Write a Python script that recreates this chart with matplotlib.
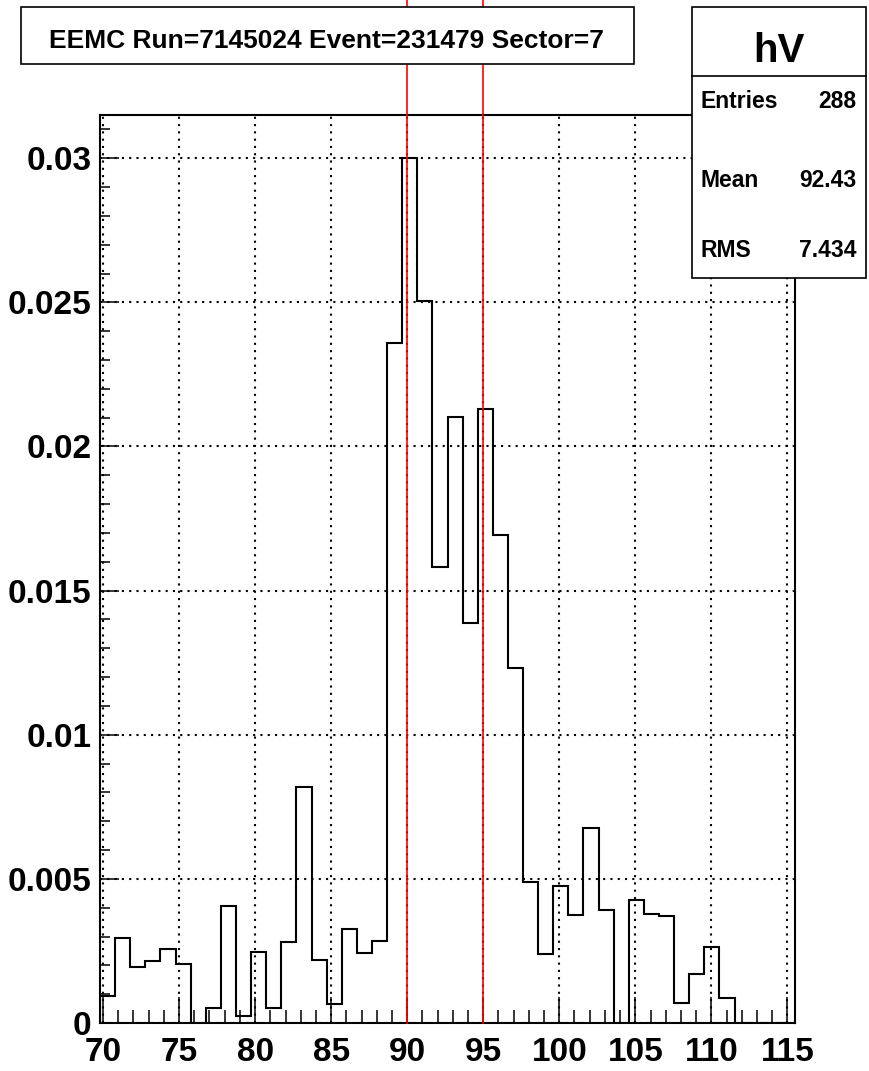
import matplotlib
matplotlib.use("Agg")
import matplotlib.pyplot as plt
import numpy as np
from matplotlib.patches import Rectangle
from matplotlib.ticker import MultipleLocator, FuncFormatter

plt.rcParams['font.family'] = ['Liberation Sans', 'DejaVu Sans']
plt.rcParams['font.weight'] = 'bold'

# histogram hV: 46 bins from 69.8 to 115.5
x_lo = 69.8
x_hi = 115.5
n_bins = 46
bin_vals = [0.00095, 0.00294, 0.00193, 0.00216, 0.00255, 0.00206, 0.0, 0.00052,
            0.00407, 0.00024, 0.00247, 0.00052, 0.00282, 0.0082, 0.00219, 0.00065,
            0.00327, 0.00244, 0.00285, 0.02358, 0.0300, 0.02506, 0.01581, 0.02103,
            0.01386, 0.0213, 0.01692, 0.0123, 0.00489, 0.00239, 0.00477, 0.00376,
            0.00678, 0.00393, 0.0, 0.00428, 0.00377, 0.00372, 0.00069, 0.00171,
            0.00265, 0.00088, 0.0, 0.0, 0.0, 0.0]
cut_lines = [90, 95]
title = "EEMC Run=7145024 Event=231479 Sector=7"
stat_names = ["Entries", "Mean", "RMS"]
stat_vals = ["288", "92.43", "7.434"]

W, H = 869, 1071
fig = plt.figure(figsize=(W / 100, H / 100), dpi=100)
ax = fig.add_axes([100 / W, (H - 1023) / H, 695 / W, 908 / H])

edges = np.linspace(x_lo, x_hi, n_bins + 1)
ax.stairs(bin_vals, edges, color='black', lw=1.5, baseline=0, zorder=3)

ax.set_xlim(x_lo, x_hi)
ax.set_ylim(0, 0.0315)

ax.xaxis.set_major_locator(MultipleLocator(5))
ax.xaxis.set_minor_locator(MultipleLocator(1))
ax.yaxis.set_major_locator(MultipleLocator(0.005))
ax.yaxis.set_minor_locator(MultipleLocator(0.001))
ax.yaxis.set_major_formatter(FuncFormatter(lambda v, p: "0" if abs(v) < 1e-9 else ("%g" % round(v, 4))))

ax.tick_params(axis='x', which='major', direction='in', length=19, width=1.1,
               labelsize=24, pad=10)
ax.tick_params(axis='x', which='minor', direction='in', length=9.5, width=1.1)
ax.tick_params(axis='y', which='major', direction='in', length=14, width=1.1,
               labelsize=24, pad=6)
ax.tick_params(axis='y', which='minor', direction='in', length=7, width=1.1)
for lab in ax.get_xticklabels() + ax.get_yticklabels():
    lab.set_fontweight('bold')

ax.grid(True, which='major', color='black', lw=1.5, linestyle=(0, (1, 2.5)))
ax.set_axisbelow(True)
for sp in ax.spines.values():
    sp.set_linewidth(1.5)

# red cut lines run up to the top of the figure
for xc in cut_lines:
    ax.plot([xc, xc], [0, 0.04], color='#ff0000', lw=1.2, clip_on=False, zorder=4)

# title box
fig.patches.append(Rectangle((21 / W, 1 - 64 / H), 613 / W, 57 / H, transform=fig.transFigure,
                             facecolor='white', edgecolor='black', lw=1.2, zorder=5))
fig.text(326.5 / W, 1 - 48 / H, title, ha='center', va='baseline',
         fontsize=19, fontweight='bold', zorder=6)

# stats box
fig.patches.append(Rectangle((692 / W, 1 - 278 / H), 174 / W, 271 / H, transform=fig.transFigure,
                             facecolor='white', edgecolor='black', lw=1.2, zorder=5))
fig.lines.append(plt.Line2D([692 / W, 866 / W], [1 - 76 / H, 1 - 76 / H], transform=fig.transFigure,
                            color='black', lw=1.2, zorder=6))
fig.text(779 / W, 1 - 62 / H, "hV", ha='center', va='baseline', fontsize=29,
         fontweight='bold', zorder=6)
for name, val, yb in zip(stat_names, stat_vals, [108, 187, 257]):
    fig.text(700.7 / W, 1 - yb / H, name, ha='left', va='baseline', fontsize=16.5,
             fontweight='bold', zorder=6)
    fig.text(856.7 / W, 1 - yb / H, val, ha='right', va='baseline', fontsize=16.5,
             fontweight='bold', zorder=6)

fig.savefig("out.png", dpi=100)
